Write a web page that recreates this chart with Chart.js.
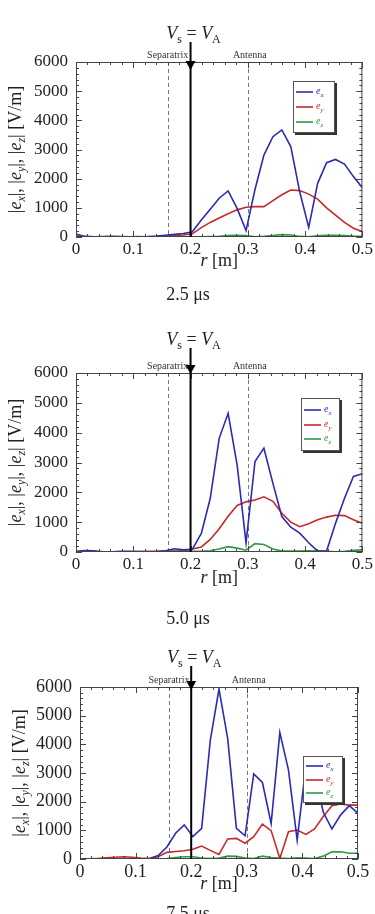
<!DOCTYPE html>
<html>
<head>
<meta charset="utf-8">
<script src="https://cdn.jsdelivr.net/npm/chart.js@4.4.1/dist/chart.umd.min.js"></script>
<style>
  body { margin: 0; background: #fff; }
  #wrap { position: relative; width: 375px; height: 914px; overflow: hidden; }
  canvas { position: absolute; left: 0; }
</style>
</head>
<body>
<div id="wrap">
  <canvas id="panel-1"></canvas>
  <canvas id="panel-2"></canvas>
  <canvas id="panel-3"></canvas>
</div>
<script>
// --------------- data --------------- //

// radial grid [m]
const rValues = [0, 0.0156, 0.0313, 0.0469, 0.0625, 0.0781, 0.0938, 0.1094, 0.125, 0.1406,
  0.1563, 0.1719, 0.1875, 0.2031, 0.2188, 0.2344, 0.25, 0.2656, 0.2813, 0.2969, 0.3125,
  0.3281, 0.3438, 0.3594, 0.375, 0.3906, 0.4063, 0.4219, 0.4375, 0.4531, 0.4688, 0.4844, 0.5];

const rTicks = [0, 0.1, 0.2, 0.3, 0.4, 0.5];
const eTicks = [0, 1000, 2000, 3000, 4000, 5000, 6000];

const separatrixR = 0.16;
const antennaR = 0.3;
const alfvenR = 0.2;

const captions = ['2.5 \u03bcs', '5.0 \u03bcs', '7.5 \u03bcs'];

// 2.5 us
const ex25 = [100, 20, 10, 15, 20, 15, 10, 10, 15, 30, 60, 90, 120, 180,
  580, 950, 1330, 1580, 980, 220, 1630, 2810, 3440, 3670, 3100, 1550, 330, 1840, 2550, 2660, 2500, 2070, 1690];
const ey25 = [30, 15, 5, 5, 5, 10, 10, 15, 10, 15, 30, 50, 70, 110,
  320, 500, 650, 800, 930, 1020, 1040, 1040, 1250, 1450, 1610, 1590, 1470, 1300, 1000, 750, 500, 300, 190];
const ez25 = [10, 5, 5, 5, 5, 5, 5, 5, 5, 5, 5, 5, 10, 10,
  10, 15, 20, 50, 60, 50, 10, 20, 50, 80, 70, 20, 10, 40, 60, 60, 50, 30, 20];

// 5.0 us
const ex50 = [20, 50, 40, 10, 5, 20, 20, 15, 10, 15, 40, 110, 70, 90,
  620, 1800, 3810, 4650, 2920, 310, 3030, 3480, 2300, 1190, 830, 630, 310, 30, 30, 960, 1800, 2530, 2620];
const ey50 = [10, 5, 5, 5, 5, 10, 10, 15, 20, 25, 30, 35, 40, 100,
  170, 420, 780, 1200, 1560, 1680, 1740, 1850, 1700, 1300, 1000, 850, 950, 1080, 1170, 1230, 1220, 1080, 960];
const ez50 = [10, 10, 10, 10, 10, 10, 10, 10, 10, 10, 15, 20, 20, 20,
  20, 40, 100, 180, 130, 60, 280, 250, 100, 30, 30, 30, 40, 30, 20, 10, 20, 60, 70];

// 7.5 us
const ex75 = [10, 5, 5, 5, 5, 5, 5, 10, 20, 120, 420, 900, 1190, 780,
  1070, 4150, 5930, 4210, 1070, 810, 2970, 2670, 1240, 4410, 3100, 660, 3260, 3070, 1630, 1050, 1540, 1860, 1590];
const ey75 = [0, 5, 20, 40, 60, 80, 60, 30, 20, 80, 230, 260, 290, 340,
  450, 300, 160, 700, 720, 550, 780, 1220, 990, 20, 950, 1010, 860, 1050, 1480, 1860, 1920, 1880, 1880];
const ez75 = [5, 5, 5, 5, 5, 5, 5, 5, 5, 5, 20, 50, 80, 80,
  30, 20, 30, 100, 90, 30, 20, 100, 50, 30, 20, 40, 30, 20, 100, 250, 250, 200, 200];

// --------------- styling --------------- //

const SERIF = '"Liberation Serif", "Times New Roman", serif';
const INK = '#222';
const seriesColors = ['#2b2bb4', '#c42a2a', '#2e9a3e'];
const seriesNames = ['x', 'y', 'z'];

const panels = [
  { id: 'panel-1', top: 0, height: 308, area: { left: 76, right: 364, top: 62, bottom: 237 },
    titleY: 39, xTitleY: 266, captionY: 300, yTitleX: 15, tipOff: 8, font: 17,
    legend: { x: 293, y: 81, w: 42, h: 52 }, series: [ex25, ey25, ez25], caption: captions[0] },
  { id: 'panel-2', top: 308, height: 322, area: { left: 76, right: 364, top: 65, bottom: 244 },
    titleY: 37, xTitleY: 275, captionY: 316, yTitleX: 15, tipOff: 1, font: 17,
    legend: { x: 301, y: 90, w: 39, h: 53 }, series: [ex50, ey50, ez50], caption: captions[1] },
  { id: 'panel-3', top: 630, height: 284, area: { left: 80, right: 358, top: 57, bottom: 229 },
    titleY: 33, xTitleY: 259, captionY: 289, yTitleX: 19, tipOff: 3, font: 18,
    legend: { x: 303, y: 126, w: 40, h: 47 }, series: [ex75, ey75, ez75], caption: captions[2] },
];

// draw a run of text pieces (italic / subscripts) one after another
function drawRich(ctx, parts, x, y, align) {
  let total = 0;
  parts.forEach(p => { ctx.font = p.font; total += ctx.measureText(p.t).width; });
  let cx = align === 'center' ? x - total / 2 : x;
  parts.forEach(p => {
    ctx.font = p.font;
    ctx.fillStyle = p.color || INK;
    ctx.fillText(p.t, cx, y + (p.dy || 0));
    cx += ctx.measureText(p.t).width;
  });
}

function makeDecor(p) {
  return {
    id: 'decor',
    beforeDatasetsDraw(chart) {
      const { ctx, chartArea: a, scales: { x } } = chart;
      ctx.save();
      ctx.strokeStyle = '#777';
      ctx.lineWidth = 1;
      ctx.setLineDash([4, 3]);
      [separatrixR, antennaR].forEach(r => {
        const px = Math.round(x.getPixelForValue(r)) + 0.5;
        ctx.beginPath();
        ctx.moveTo(px, a.top);
        ctx.lineTo(px, a.bottom);
        ctx.stroke();
      });
      ctx.restore();
    },
    afterDraw(chart) {
      const { ctx, chartArea: a, scales: { x, y } } = chart;
      const f = p.font;
      ctx.save();

      // frame + inward ticks
      ctx.strokeStyle = '#444';
      ctx.lineWidth = 1;
      ctx.strokeRect(a.left + 0.5, a.top + 0.5, a.right - a.left - 1, a.bottom - a.top - 1);
      ctx.beginPath();
      for (let k = 0; k <= 25; k++) {
        const px = Math.round(x.getPixelForValue(k * 0.02)) + 0.5;
        const len = k % 5 === 0 ? 6 : 3;
        ctx.moveTo(px, a.bottom); ctx.lineTo(px, a.bottom - len);
        ctx.moveTo(px, a.top); ctx.lineTo(px, a.top + len);
      }
      for (let k = 0; k <= 30; k++) {
        const py = Math.round(y.getPixelForValue(k * 200)) + 0.5;
        const len = k % 5 === 0 ? 6 : 3;
        ctx.moveTo(a.left, py); ctx.lineTo(a.left + len, py);
        ctx.moveTo(a.right, py); ctx.lineTo(a.right - len, py);
      }
      ctx.stroke();

      // V_s = V_A line with arrow head
      const ax = x.getPixelForValue(alfvenR);
      ctx.strokeStyle = '#000';
      ctx.lineWidth = 2;
      ctx.beginPath();
      ctx.moveTo(ax, p.titleY + 3);
      ctx.lineTo(ax, a.bottom);
      ctx.stroke();
      ctx.fillStyle = '#000';
      ctx.beginPath();
      ctx.moveTo(ax - 5, a.top + p.tipOff - 9);
      ctx.lineTo(ax + 5, a.top + p.tipOff - 9);
      ctx.lineTo(ax, a.top + p.tipOff);
      ctx.closePath();
      ctx.fill();

      // marker labels
      ctx.textAlign = 'left';
      ctx.textBaseline = 'alphabetic';
      ctx.font = '10px ' + SERIF;
      ctx.fillStyle = '#333';
      ctx.textAlign = 'center';
      ctx.fillText('Separatrix', x.getPixelForValue(separatrixR), a.top - 4);
      ctx.fillText('Antenna', x.getPixelForValue(antennaR) + 2, a.top - 4);
      ctx.textAlign = 'left';

      // title V_s = V_A
      drawRich(ctx, [
        { t: 'V', font: 'italic 18px ' + SERIF },
        { t: 's', font: '12px ' + SERIF, dy: 4 },
        { t: ' = ', font: '18px ' + SERIF },
        { t: 'V', font: 'italic 18px ' + SERIF },
        { t: 'A', font: '12px ' + SERIF, dy: 4 },
      ], ax + 3, p.titleY, 'center');

      // x axis title
      drawRich(ctx, [
        { t: 'r', font: 'italic 18px ' + SERIF },
        { t: ' [m]', font: '18px ' + SERIF },
      ], (a.left + a.right) / 2, p.xTitleY, 'center');

      // y axis title, rotated
      ctx.save();
      ctx.translate(p.yTitleX + 6, (a.top + a.bottom) / 2);
      ctx.rotate(-Math.PI / 2);
      const rom = '18px ' + SERIF, ita = 'italic 18px ' + SERIF, sub = 'italic 12px ' + SERIF;
      drawRich(ctx, [
        { t: '|', font: rom }, { t: 'e', font: ita }, { t: 'x', font: sub, dy: 4 },
        { t: '|, |', font: rom }, { t: 'e', font: ita }, { t: 'y', font: sub, dy: 4 },
        { t: '|, |', font: rom }, { t: 'e', font: ita }, { t: 'z', font: sub, dy: 4 },
        { t: '| [V/m]', font: rom },
      ], 0, 0, 'center');
      ctx.restore();

      // caption
      ctx.font = '18px ' + SERIF;
      ctx.fillStyle = INK;
      ctx.textAlign = 'center';
      ctx.fillText(p.caption, 188, p.captionY);
      ctx.textAlign = 'left';

      // legend box with shadow
      const L = p.legend;
      ctx.fillStyle = '#333';
      ctx.fillRect(L.x + 2, L.y + 2, L.w, L.h);
      ctx.fillStyle = '#fff';
      ctx.fillRect(L.x, L.y, L.w, L.h);
      ctx.strokeStyle = '#555';
      ctx.lineWidth = 1;
      ctx.strokeRect(L.x + 0.5, L.y + 0.5, L.w - 1, L.h - 1);
      [0.22, 0.5, 0.78].forEach((fr, i) => {
        const ly = Math.round(L.y + L.h * fr);
        ctx.strokeStyle = seriesColors[i];
        ctx.lineWidth = 1.6;
        ctx.beginPath();
        ctx.moveTo(L.x + 3, ly);
        ctx.lineTo(L.x + 20, ly);
        ctx.stroke();
        drawRich(ctx, [
          { t: 'e', font: 'italic 10px ' + SERIF, color: seriesColors[i] },
          { t: seriesNames[i], font: 'italic 7px ' + SERIF, color: seriesColors[i], dy: 3 },
        ], L.x + 23, ly + 2, 'left');
      });

      ctx.restore();
    }
  };
}

// --------------- charts --------------- //

panels.forEach(p => {
  const canvas = document.getElementById(p.id);
  canvas.width = 375;
  canvas.height = p.height;
  canvas.style.top = p.top + 'px';
  canvas.style.width = '375px';
  canvas.style.height = p.height + 'px';

  const datasets = p.series.map((vals, i) => ({
    label: 'e' + seriesNames[i],
    data: rValues.map((r, k) => ({ x: r, y: vals[k] })),
    borderColor: seriesColors[i],
    borderWidth: 1.6,
    pointRadius: 0,
    tension: 0,
    fill: false,
  }));

  const tickFont = { family: SERIF, size: p.font };

  new Chart(canvas, {
    type: 'line',
    data: { datasets: datasets },
    options: {
      responsive: false,
      animation: false,
      devicePixelRatio: 1,
      layout: { padding: { left: 0, right: 375 - p.area.right, top: p.area.top, bottom: 0 } },
      plugins: {
        legend: { display: false },
        tooltip: { enabled: false },
      },
      scales: {
        x: {
          type: 'linear',
          min: 0,
          max: 0.5,
          afterBuildTicks: s => { s.ticks = rTicks.map(v => ({ value: v })); },
          afterFit: s => { s.height = p.height - p.area.bottom; },
          grid: { display: false, drawTicks: false },
          border: { display: false },
          ticks: { padding: 2, font: tickFont, color: INK, maxRotation: 0, autoSkip: false,
            callback: v => String(v) },
        },
        y: {
          type: 'linear',
          min: 0,
          max: 6000,
          afterBuildTicks: s => { s.ticks = eTicks.map(v => ({ value: v })); },
          afterFit: s => { s.width = p.area.left; },
          grid: { display: false, drawTicks: false },
          border: { display: false },
          ticks: { padding: 8, font: tickFont, color: INK, autoSkip: false,
            callback: v => String(v) },
        }
      }
    },
    plugins: [makeDecor(p)]
  });
});
</script>
</body>
</html>
